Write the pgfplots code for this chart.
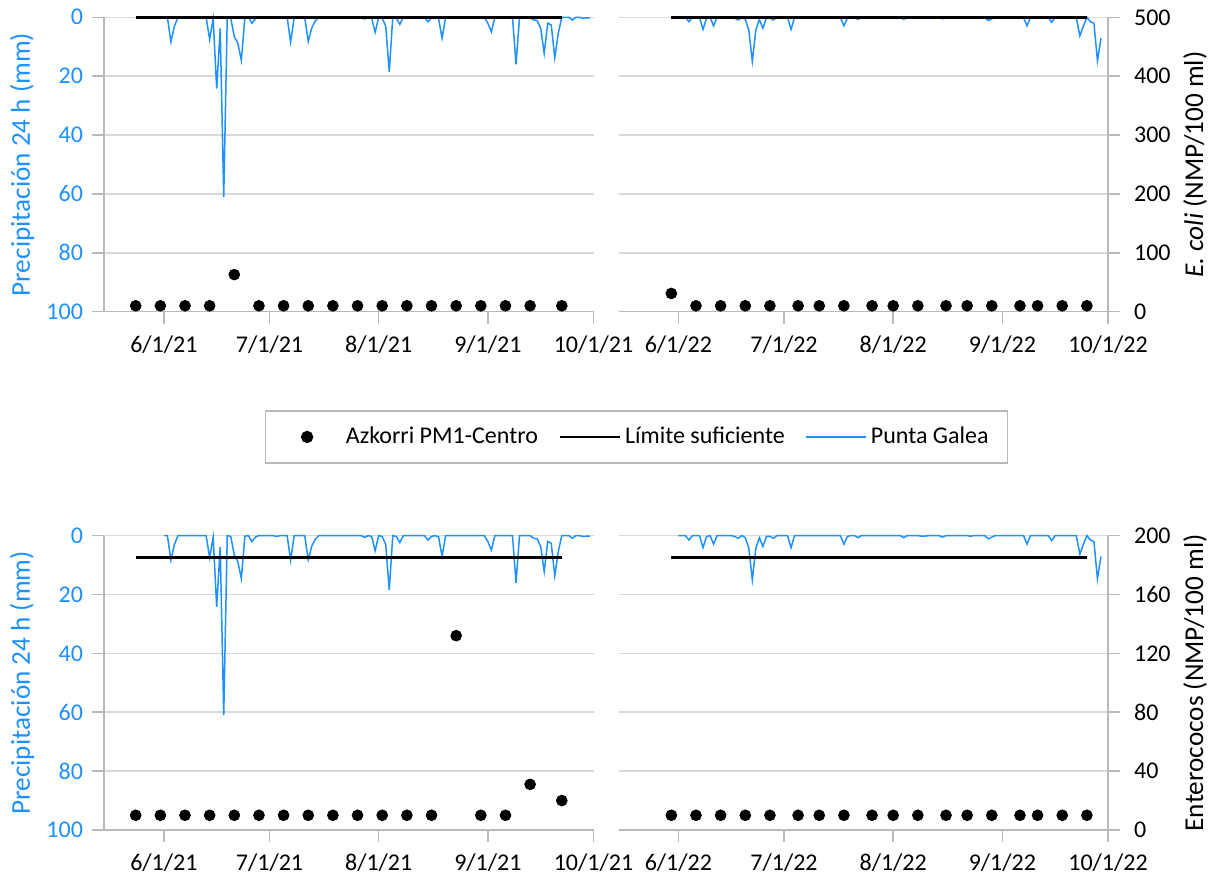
\documentclass[border=0pt]{standalone}
\usepackage{fontspec}
\setmainfont{Carlito}
\usepackage{pgfplots}
\pgfplotsset{compat=1.18}
\definecolor{pblue}{RGB}{30,144,255}
\definecolor{gridc}{RGB}{217,217,217}
\definecolor{axc}{RGB}{185,185,185}
\pgfplotsset{
  base/.style={scale only axis, width=244.75pt, height=147.2pt, anchor=south west,
    xmin=135, xmax=274, clip=false, tick align=outside, major tick length=6pt,
    axis line style={draw=axc, line width=0.75pt},
    tick style={draw=axc, line width=0.75pt},
    /pgf/number format/assume math mode=true,
    tick label style={font=\fontsize{12}{14}\selectfont},
    xticklabel style={yshift=-2.5pt},
    label style={font=\fontsize{13.6}{16}\selectfont}},
  precipL/.style={base, ymin=0, ymax=100, y dir=reverse, ytick={0,20,40,60,80,100},
    ymajorgrids, grid style={draw=gridc, line width=0.75pt},
    axis y line*=left, x axis line style={draw=none}, xtick=\empty,
    yticklabel style={text=pblue, xshift=-1pt},
    ylabel={Precipitación 24 h (mm)},
    ylabel style={text=pblue, at={(axis description cs:-0.1675,0.5)}, anchor=center}},
  precipR/.style={base, ymin=0, ymax=100, y dir=reverse, ytick={0,20,40,60,80,100},
    ymajorgrids, grid style={draw=gridc, line width=0.75pt},
    axis line style={draw=none}, xtick=\empty, yticklabels={}, ytick style={draw=none}},
  bactL/.style={base, axis x line*=bottom, y axis line style={draw=none}, ytick=\empty,
    xtick={152,182,213,244,274}, xticklabels={6/1/21,7/1/21,8/1/21,9/1/21,10/1/21}},
  bactR/.style={base, axis x line*=bottom, axis y line*=right,
    xtick={152,182,213,244,274}, xticklabels={6/1/22,7/1/22,8/1/22,9/1/22,10/1/22},
    yticklabel style={xshift=3.5pt},
    ylabel style={at={(axis description cs:1.1777,0.5)}, anchor=center}},
  pline/.style={pblue, line width=0.75pt},
  lim/.style={black, line width=1.25pt},
  dots/.style={only marks, mark=*, mark size=2.7pt, black},
  dotleg/.style={legend image code/.code={\path (0pt,0pt) (30pt,0pt); \draw[##1,/tikz/only marks] plot coordinates {(13pt,0pt)};}},
  lineleg/.style={legend image code/.code={\draw[##1] (0pt,0pt) -- (30pt,0pt);}},
}
\begin{document}
\begin{tikzpicture}
\path[use as bounding box] (0,0) rectangle (605pt,441.5pt);
% ---------- Top left: 2021 E. coli ----------
\begin{axis}[precipL, at={(52pt,285.65pt)}]
\addplot[pline] coordinates {(152,0)(153,0)(154,8.3)(155,3)(156,0)(157,0)(158,0)(159,0)(160,0)(161,0)(162,0)(163,0)(164,0)(165,7.5)(166,0.5)(167,24.2)(168,3.8)(169,61)(170,0)(171,0.3)(172,6.6)(173,8.8)(174,14.6)(175,0.2)(176,0)(177,2)(178,0.5)(179,0)(180,0)(181,0)(182,0)(183,0)(184,0.3)(185,0)(186,0)(187,0)(188,8.4)(189,0)(190,0)(191,0)(192,0)(193,8.2)(194,3.6)(195,1.2)(196,0)(197,0)(198,0)(199,0)(200,0)(201,0)(202,0)(203,0)(204,0)(205,0)(206,0)(207,0)(208,0)(209,0.6)(210,0)(211,0.3)(212,5.1)(213,0)(214,0.3)(215,3)(216,18.5)(217,0)(218,0.3)(219,2.4)(220,0)(221,0)(222,0)(223,0)(224,0)(225,0)(226,0)(227,1.5)(228,0.3)(229,0)(230,0.4)(231,7.1)(232,0)(233,0)(234,0)(235,0)(236,0)(237,0)(238,0)(239,0)(240,0)(241,0)(242,0)(243,0)(244,2)(245,4.9)(246,0)(247,0)(248,0)(249,0)(250,0)(251,0)(252,16)(253,0)(254,0)(255,0)(256,0)(257,0.9)(258,1.1)(259,3.7)(260,12.2)(261,2)(262,2.6)(263,13.7)(264,5.4)(265,0)(266,0)(267,0)(268,0.9)(269,0)(270,0)(271,0.3)(272,0.2)(273,0.2)};
\end{axis}
\begin{axis}[bactL, at={(52pt,285.65pt)}, ymin=0, ymax=500,
  legend columns=3, legend cell align=left,
  legend style={at={(axis description cs:1.0878,-0.4256)}, anchor=center, draw=axc, line width=0.75pt,
    font=\fontsize{12}{14}\selectfont, inner xsep=7.5pt, inner ysep=6pt,
    /tikz/every even column/.append style={column sep=8.3pt}}]
\addplot[dots, dotleg] coordinates {(144,10)(151,10)(158,10)(165,10)(172,63)(179,10)(186,10)(193,10)(200,10)(207,10)(214,10)(221,10)(228,10)(235,10)(242,10)(249,10)(256,10)(265,10)};
\addlegendentry{Azkorri PM1-Centro}
\addplot[lim, lineleg] coordinates {(144,500)(265,500)};
\addlegendentry{Límite suficiente}
\addlegendimage{pline, lineleg}
\addlegendentry{Punta Galea}
\end{axis}
% ---------- Top right: 2022 E. coli ----------
\begin{axis}[precipR, at={(309.25pt,285.65pt)}]
\addplot[pline] coordinates {(152,0)(153,0)(154,0)(155,1.5)(156,0)(157,0)(158,0)(159,4.1)(160,0.3)(161,0)(162,2.9)(163,0)(164,0)(165,0)(166,0)(167,0)(168,0.3)(169,0.9)(170,0)(171,0.7)(172,4.3)(173,15)(174,4.3)(175,0.7)(176,3.7)(177,0.3)(178,0.3)(179,0.9)(180,0)(181,0)(182,0)(183,0)(184,4.1)(185,0)(186,0)(187,0)(188,0)(189,0)(190,0)(191,0)(192,0)(193,0)(194,0)(195,0)(196,0)(197,0)(198,0)(199,2.9)(200,0.3)(201,0)(202,0)(203,0.7)(204,0)(205,0)(206,0)(207,0)(208,0)(209,0)(210,0)(211,0)(212,0)(213,0)(214,0)(215,0)(216,0.7)(217,0)(218,0)(219,0)(220,0)(221,0.2)(222,0.2)(223,0)(224,0)(225,0)(226,0)(227,0.5)(228,0)(229,0)(230,0)(231,0)(232,0)(233,0)(234,0)(235,0.2)(236,0)(237,0)(238,0)(239,0)(240,1.1)(241,0.5)(242,0)(243,0)(244,0)(245,0)(246,0)(247,0)(248,0)(249,0)(250,0)(251,2.9)(252,0)(253,0)(254,0)(255,0)(256,0)(257,0)(258,1.7)(259,0)(260,0)(261,0)(262,0)(263,0)(264,0)(265,0)(266,6.3)(267,3)(268,0)(269,1.5)(270,2)(271,14.7)(272,7.1)};
\end{axis}
\begin{axis}[bactR, at={(309.25pt,285.65pt)}, ymin=0, ymax=500, ytick={0,100,200,300,400,500},
  ylabel={\textit{E. coli} (NMP/100 ml)}]
\addplot[dots] coordinates {(150,31)(157,10)(164,10)(171,10)(178,10)(186,10)(192,10)(199,10)(207,10)(213,10)(220,10)(228,10)(234,10)(241,10)(249,10)(254,10)(261,10)(268,10)};
\addplot[lim] coordinates {(150,500)(268,500)};
\end{axis}
% ---------- Bottom left: 2021 Enterococos ----------
\begin{axis}[precipL, at={(52pt,26.5pt)}]
\addplot[pline] coordinates {(152,0)(153,0)(154,8.3)(155,3)(156,0)(157,0)(158,0)(159,0)(160,0)(161,0)(162,0)(163,0)(164,0)(165,7.5)(166,0.5)(167,24.2)(168,3.8)(169,61)(170,0)(171,0.3)(172,6.6)(173,8.8)(174,14.6)(175,0.2)(176,0)(177,2)(178,0.5)(179,0)(180,0)(181,0)(182,0)(183,0)(184,0.3)(185,0)(186,0)(187,0)(188,8.4)(189,0)(190,0)(191,0)(192,0)(193,8.2)(194,3.6)(195,1.2)(196,0)(197,0)(198,0)(199,0)(200,0)(201,0)(202,0)(203,0)(204,0)(205,0)(206,0)(207,0)(208,0)(209,0.6)(210,0)(211,0.3)(212,5.1)(213,0)(214,0.3)(215,3)(216,18.5)(217,0)(218,0.3)(219,2.4)(220,0)(221,0)(222,0)(223,0)(224,0)(225,0)(226,0)(227,1.5)(228,0.3)(229,0)(230,0.4)(231,7.1)(232,0)(233,0)(234,0)(235,0)(236,0)(237,0)(238,0)(239,0)(240,0)(241,0)(242,0)(243,0)(244,2)(245,4.9)(246,0)(247,0)(248,0)(249,0)(250,0)(251,0)(252,16)(253,0)(254,0)(255,0)(256,0)(257,0.9)(258,1.1)(259,3.7)(260,12.2)(261,2)(262,2.6)(263,13.7)(264,5.4)(265,0)(266,0)(267,0)(268,0.9)(269,0)(270,0)(271,0.3)(272,0.2)(273,0.2)};
\end{axis}
\begin{axis}[bactL, at={(52pt,26.5pt)}, ymin=0, ymax=200]
\addplot[dots] coordinates {(144,10)(151,10)(158,10)(165,10)(172,10)(179,10)(186,10)(193,10)(200,10)(207,10)(214,10)(221,10)(228,10)(235,132)(242,10)(249,10)(256,31)(265,20)};
\addplot[lim] coordinates {(144,185)(265,185)};
\end{axis}
% ---------- Bottom right: 2022 Enterococos ----------
\begin{axis}[precipR, at={(309.25pt,26.5pt)}]
\addplot[pline] coordinates {(152,0)(153,0)(154,0)(155,1.5)(156,0)(157,0)(158,0)(159,4.1)(160,0.3)(161,0)(162,2.9)(163,0)(164,0)(165,0)(166,0)(167,0)(168,0.3)(169,0.9)(170,0)(171,0.7)(172,4.3)(173,15)(174,4.3)(175,0.7)(176,3.7)(177,0.3)(178,0.3)(179,0.9)(180,0)(181,0)(182,0)(183,0)(184,4.1)(185,0)(186,0)(187,0)(188,0)(189,0)(190,0)(191,0)(192,0)(193,0)(194,0)(195,0)(196,0)(197,0)(198,0)(199,2.9)(200,0.3)(201,0)(202,0)(203,0.7)(204,0)(205,0)(206,0)(207,0)(208,0)(209,0)(210,0)(211,0)(212,0)(213,0)(214,0)(215,0)(216,0.7)(217,0)(218,0)(219,0)(220,0)(221,0.2)(222,0.2)(223,0)(224,0)(225,0)(226,0)(227,0.5)(228,0)(229,0)(230,0)(231,0)(232,0)(233,0)(234,0)(235,0.2)(236,0)(237,0)(238,0)(239,0)(240,1.1)(241,0.5)(242,0)(243,0)(244,0)(245,0)(246,0)(247,0)(248,0)(249,0)(250,0)(251,2.9)(252,0)(253,0)(254,0)(255,0)(256,0)(257,0)(258,1.7)(259,0)(260,0)(261,0)(262,0)(263,0)(264,0)(265,0)(266,6.3)(267,3)(268,0)(269,1.5)(270,2)(271,14.7)(272,7.1)};
\end{axis}
\begin{axis}[bactR, at={(309.25pt,26.5pt)}, ymin=0, ymax=200, ytick={0,40,80,120,160,200},
  ylabel={Enterococos (NMP/100 ml)}]
\addplot[dots] coordinates {(150,10)(157,10)(164,10)(171,10)(178,10)(186,10)(192,10)(199,10)(207,10)(213,10)(220,10)(228,10)(234,10)(241,10)(249,10)(254,10)(261,10)(268,10)};
\addplot[lim] coordinates {(150,185)(268,185)};
\end{axis}
\end{tikzpicture}
\end{document}
